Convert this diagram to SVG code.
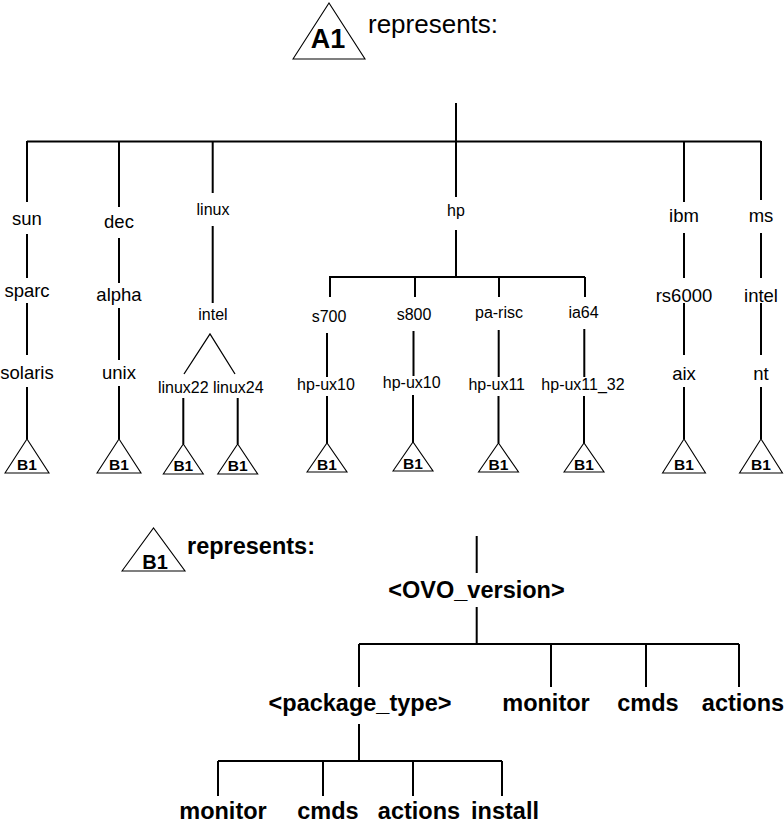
<svg xmlns="http://www.w3.org/2000/svg" width="784" height="825" viewBox="0 0 784 825">
<style>
text{font-family:"Liberation Sans",Arial,Helvetica,sans-serif;fill:#000;text-anchor:middle}
.a{font-size:18.5px}
.s{font-size:16px}
.b{font-weight:bold;font-size:23.5px}
.bt{font-weight:bold;font-size:15.5px}
.ln{stroke:#000;stroke-width:2;fill:none}
.tri{stroke:#000;stroke-width:1.1;fill:#fff}
</style>
<rect width="784" height="825" fill="#fff"/>
<g id="connectors" class="ln">
<path d="M456,103V141M27,141.5H761"/>
<path d="M27,141V202M27,234V278M27,303V355M27,387V439"/>
<path d="M119,141V207M119,238V283M119,308V360M119,386V439"/>
<path d="M212.7,141V193M212.7,226V303M183.3,398V444M237.7,398V444"/>
<polyline points="184,374 210,334 235,374" stroke-width="1.3"/>
<path d="M456,141V197M456,230V277M329,277H585"/>
<path d="M330,277V297M327,333V377M327,396V443"/>
<path d="M415,277V297M413.5,331V376M413,395V443"/>
<path d="M499,277V297M498.7,330V377M498.5,396V443"/>
<path d="M585,277V297M584.3,329V377M584,396V443"/>
<path d="M684,141V202M684,233V278M684,303V355M684,387V439"/>
<path d="M761,141V200M761,233V278M761,303V355M761,387V439"/>
<path d="M476.7,536V573M476.7,607V644M359,644H739M359,644V687M551,644V687M646,644V687M739,644V687"/>
<path d="M359,724V761M218,761H502M218,761V796M323,761V796M413,761V796M502,761V796"/>
</g>
<g id="legend-a1">
<polygon class="tri" points="293,59 329,3 365,59"/>
<text x="328" y="48" font-weight="bold" font-size="27">A1</text>
<text x="368" y="33" font-size="26" style="text-anchor:start">represents:</text>
</g>
<g id="sun"><text class="a" x="27" y="225">sun</text></g>
<g id="sparc"><text class="a" x="27" y="297">sparc</text></g>
<g id="solaris"><text class="a" x="27" y="379">solaris</text></g>
<g id="b1-solaris"><polygon class="tri" points="5,473 27,439 49,473"/><text class="bt" x="27" y="469.5">B1</text></g>
<g id="dec"><text class="a" x="119" y="228">dec</text></g>
<g id="alpha"><text class="a" x="119" y="301">alpha</text></g>
<g id="unix"><text class="a" x="119" y="379">unix</text></g>
<g id="b1-unix"><polygon class="tri" points="97,473 119,439 141,473"/><text class="bt" x="119" y="469.5">B1</text></g>
<g id="linux"><text class="s" x="213" y="215">linux</text></g>
<g id="linux-intel"><text class="s" x="213" y="320">intel</text></g>
<g id="linux22"><text class="s" x="183.3" y="393">linux22</text></g>
<g id="linux24"><text class="s" x="238.3" y="393">linux24</text></g>
<g id="b1-linux22"><polygon class="tri" points="163.3,474 183.3,444 203.3,474"/><text class="bt" x="183.3" y="471">B1</text></g>
<g id="b1-linux24"><polygon class="tri" points="217.7,474 237.7,444 257.7,474"/><text class="bt" x="237.7" y="471">B1</text></g>
<g id="hp"><text class="s" x="456" y="216">hp</text></g>
<g id="s700"><text class="s" x="329" y="322">s700</text></g>
<g id="s700-os"><text class="s" x="326" y="390">hp-ux10</text></g>
<g id="b1-s700"><polygon class="tri" points="307,472 327,443 347,472"/><text class="bt" x="327" y="470">B1</text></g>
<g id="s800"><text class="s" x="414" y="320">s800</text></g>
<g id="s800-os"><text class="s" x="411.7" y="388">hp-ux10</text></g>
<g id="b1-s800"><polygon class="tri" points="393,471 413,442 433,471"/><text class="bt" x="413" y="469">B1</text></g>
<g id="pa-risc"><text class="s" x="499" y="318">pa-risc</text></g>
<g id="pa-risc-os"><text class="s" x="496.7" y="390">hp-ux11</text></g>
<g id="b1-pa-risc"><polygon class="tri" points="478.5,472 498.5,443 518.5,472"/><text class="bt" x="498.5" y="470">B1</text></g>
<g id="ia64"><text class="s" x="583.5" y="318">ia64</text></g>
<g id="ia64-os"><text class="s" x="583" y="390">hp-ux11_32</text></g>
<g id="b1-ia64"><polygon class="tri" points="564,472 584,443 604,472"/><text class="bt" x="584" y="470">B1</text></g>
<g id="ibm"><text class="a" x="684" y="222">ibm</text></g>
<g id="rs6000"><text class="a" x="684" y="301.5">rs6000</text></g>
<g id="aix"><text class="a" x="684" y="380">aix</text></g>
<g id="b1-aix"><polygon class="tri" points="662.5,473 684,439 705.5,473"/><text class="bt" x="684" y="469.5">B1</text></g>
<g id="ms"><text class="a" x="761" y="222">ms</text></g>
<g id="ms-intel"><text class="a" x="761" y="301.5">intel</text></g>
<g id="nt"><text class="a" x="761" y="380">nt</text></g>
<g id="b1-nt"><polygon class="tri" points="739.5,473 761,439 782.5,473"/><text class="bt" x="761" y="469.5">B1</text></g>
<g id="legend-b1">
<polygon class="tri" points="122,571 153.5,528 185,571"/>
<text x="155" y="569" font-weight="bold" font-size="20">B1</text>
<text class="b" x="187" y="554" style="text-anchor:start">represents:</text>
</g>
<g id="ovo-version"><text class="b" x="476.5" y="598">&lt;OVO_version&gt;</text></g>
<g id="package-type"><text class="b" x="360" y="711">&lt;package_type&gt;</text></g>
<g id="monitor-1"><text class="b" x="546" y="711">monitor</text></g>
<g id="cmds-1"><text class="b" x="648" y="711">cmds</text></g>
<g id="actions-1"><text class="b" x="743" y="711">actions</text></g>
<g id="monitor-2"><text class="b" x="223" y="819">monitor</text></g>
<g id="cmds-2"><text class="b" x="328" y="819">cmds</text></g>
<g id="actions-2"><text class="b" x="419" y="819">actions</text></g>
<g id="install"><text class="b" x="505" y="819">install</text></g>
</svg>
